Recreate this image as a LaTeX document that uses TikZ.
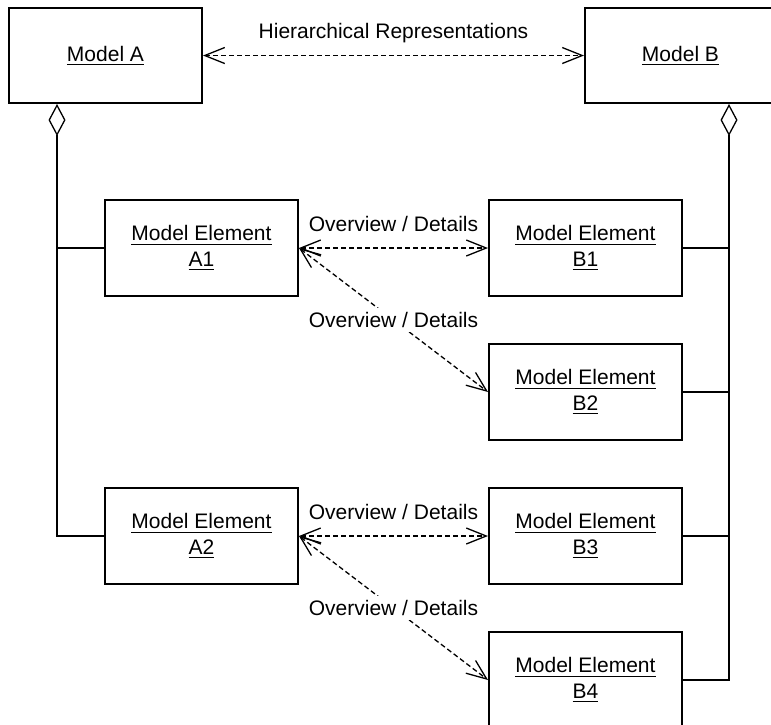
\documentclass[tikz,border=0pt]{standalone}
\usepackage{fontspec}
\setmainfont{Liberation Sans}
\usetikzlibrary{arrows.meta}

% underlined label text with a rule a little below the baseline
\newcommand\ultext[1]{\setbox0\hbox{#1}\rlap{\rule[-4.1pt]{\wd0}{1.2pt}}\box0}

\begin{document}
\begin{tikzpicture}[x=1pt,y=-1pt,
  every node/.style={font=\fontsize{21}{25.5}\selectfont},
  classbox/.style={draw, line width=2pt, fill=white, align=center,
    minimum width=193pt, minimum height=96pt, inner sep=0pt},
  link/.style={line width=1.3pt},
  barb/.tip={Straight Barb[length=20pt,width=16pt,line join=miter]},
  hollowdiamond/.tip={Diamond[open,length=32pt,width=17pt]},
  relation/.style={link, dashed, dash pattern=on 5pt off 3pt, barb-barb},
  aggregate/.style={link, hollowdiamond-},
  tag/.style={anchor=base, yshift=17pt, inner sep=0pt},
  midtag/.style={midway, fill=white, inner sep=4pt}
]
\useasboundingbox (0,0) rectangle (771,724);

% top-level models
\node[classbox, minimum height=95pt] (mA) at (105.5,55.5) {\ultext{Model A}};
\node[classbox, minimum width=191pt, minimum height=95pt] (mB) at (680.5,55.5) {\ultext{Model B}};

% model elements
\node[classbox] (a1) at (201.5,248) {\ultext{Model Element}\\\ultext{A1}};
\node[classbox] (a2) at (201.5,536) {\ultext{Model Element}\\\ultext{A2}};
\node[classbox] (b1) at (585.5,248) {\ultext{Model Element}\\\ultext{B1}};
\node[classbox] (b2) at (585.5,392) {\ultext{Model Element}\\\ultext{B2}};
\node[classbox] (b3) at (585.5,536) {\ultext{Model Element}\\\ultext{B3}};
\node[classbox] (b4) at (585.5,680) {\ultext{Model Element}\\\ultext{B4}};

% aggregation trunks
\coordinate (trunkA) at (57,0);
\coordinate (trunkB) at (729,0);
\draw[aggregate] (mA.south -| trunkA) -- (trunkA |- a2.west) -- (a2.west);
\draw[link] (trunkA |- a1.west) -- (a1.west);
\draw[aggregate] (mB.south -| trunkB) -- (trunkB |- b4.east) -- (b4.east);
\draw[link] (trunkB |- b1.east) -- (b1.east);
\draw[link] (trunkB |- b2.east) -- (b2.east);
\draw[link] (trunkB |- b3.east) -- (b3.east);

% correspondences
\draw[relation] (mA.east) -- (mB.west)
  node[midway, tag] (hier) {Hierarchical Representations};
\draw[relation] (a1.east) -- (b1.west)
  node[midway, tag] (od1) {Overview / Details};
\draw[relation] (a1.east) -- (b2.west)
  node[midtag] (od2) {Overview / Details};
\draw[relation] (a2.east) -- (b3.west)
  node[midway, tag] (od3) {Overview / Details};
\draw[relation] (a2.east) -- (b4.west)
  node[midtag] (od4) {Overview / Details};
\end{tikzpicture}
\end{document}
